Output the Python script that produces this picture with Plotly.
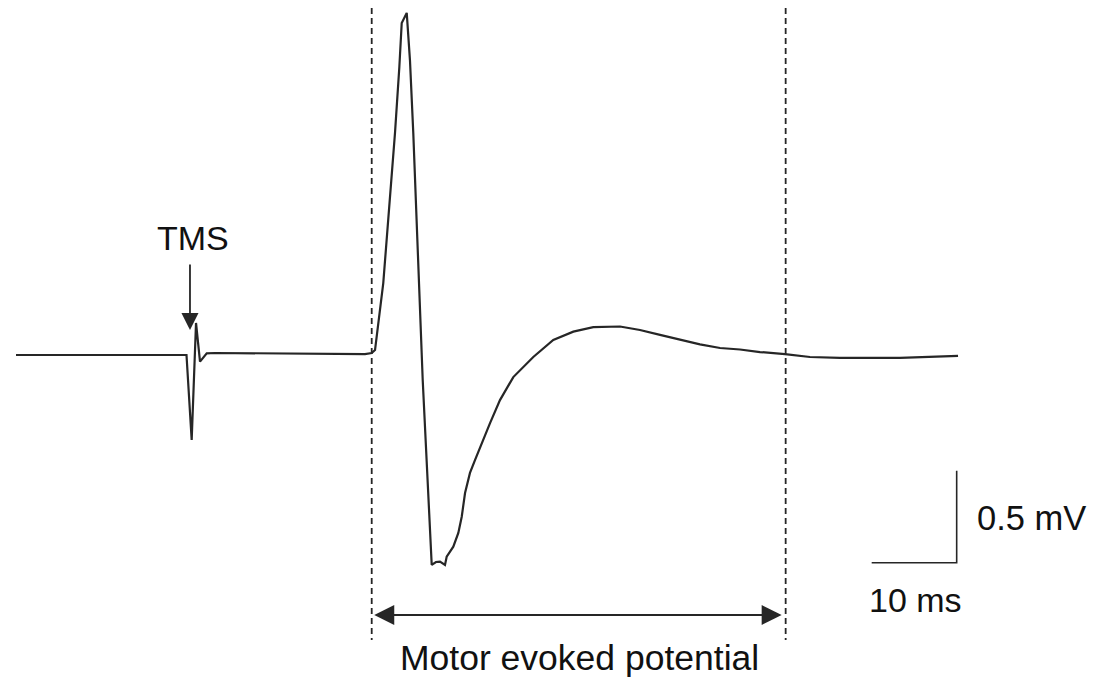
import plotly.graph_objects as go

# ---- Data (time in ms relative to TMS pulse, amplitude in mV) ----
time_ms = [-20.59, -0.53, 0.08, 0.59, 1.06, 1.85, 2.82, 12.82, 20.47, 21.26, 21.65,
           22.62, 23.41, 24.0, 24.51, 24.79, 25.38, 25.76, 26.15, 26.55, 26.94, 27.26,
           28.32, 28.82, 29.29, 29.88, 30.08, 30.86, 31.45, 31.85, 32.24, 32.82, 33.41,
           34.20, 35.18, 36.35, 37.92, 40.27, 42.62, 44.98, 47.33, 50.47, 52.82, 55.18,
           57.53, 59.88, 62.24, 64.59, 66.94, 69.88, 72.82, 76.35, 83.41, 86.35, 90.24]
amplitude_mV = [0.0, 0.0, -0.462, 0.174, -0.036, 0.009, 0.011, 0.008, 0.005, 0.011, 0.027,
                0.391, 0.842, 1.207, 1.565, 1.804, 1.859, 1.603, 1.207, 0.750, 0.299, -0.136,
                -1.141, -1.125, -1.123, -1.141, -1.096, -1.042, -0.967, -0.879, -0.750, -0.641, -0.571,
                -0.478, -0.370, -0.245, -0.120, -0.011, 0.082, 0.127, 0.151, 0.155, 0.136, 0.109,
                0.082, 0.058, 0.038, 0.030, 0.016, 0.005, -0.011, -0.016, -0.016, -0.011, -0.005]

mep_window_ms = [21.26, 69.96]      # dashed markers of MEP window
mep_arrow_ms = [21.38, 69.49]       # double arrow extent
scale_bar_ms = 10
scale_bar_mV = 0.5
scale_corner = (90.08, -1.129)      # corner of the scale bar (ms, mV)

tms_label = "TMS"
mep_label = "Motor evoked potential"
time_label = "10 ms"
volt_label = "0.5 mV"

FONT = "Arial, 'Liberation Sans', Helvetica, sans-serif"
INK = "#262626"

fig = go.Figure()

# Trace
fig.add_trace(go.Scatter(x=time_ms, y=amplitude_mV, mode="lines",
                         line=dict(color=INK, width=2.2), hoverinfo="skip"))

# Dashed window lines
for t in mep_window_ms:
    fig.add_trace(go.Scatter(x=[t, t], y=[1.886, -1.549], mode="lines",
                             line=dict(color=INK, width=1.8, dash="6px,4px"),
                             hoverinfo="skip"))

# Scale bar
cx, cy = scale_corner
fig.add_trace(go.Scatter(x=[cx - scale_bar_ms, cx, cx], y=[cy, cy, cy + scale_bar_mV],
                         mode="lines", line=dict(color=INK, width=1.6), hoverinfo="skip"))

annotations = [
    # MEP double arrow
    dict(x=mep_arrow_ms[1], y=-1.413, ax=mep_arrow_ms[0], ay=-1.413,
         xref="x", yref="y", axref="x", ayref="y", text="", showarrow=True,
         arrowhead=2, startarrowhead=2, arrowside="end+start", arrowwidth=2,
         arrowsize=2, startarrowsize=2, arrowcolor=INK),
    # TMS arrow
    dict(x=-0.12, y=0.136, ax=-0.12, ay=0.5,
         xref="x", yref="y", axref="x", ayref="y", text="", showarrow=True,
         arrowhead=2, arrowwidth=1.8, arrowsize=1.9, arrowcolor=INK),
    dict(x=0.24, y=0.636, xref="x", yref="y", text=tms_label, showarrow=False,
         font=dict(family=FONT, size=34, color="#111"), xanchor="center", yanchor="middle"),
    dict(x=45.76, y=-1.647, xref="x", yref="y", text=mep_label, showarrow=False,
         font=dict(family=FONT, size=35.5, color="#111"), xanchor="center", yanchor="middle"),
    dict(x=92.24, y=-0.886, xref="x", yref="y", text=volt_label, showarrow=False,
         font=dict(family=FONT, size=34.5, color="#111"), xanchor="left", yanchor="middle"),
    dict(x=85.18, y=-1.332, xref="x", yref="y", text=time_label, showarrow=False,
         font=dict(family=FONT, size=34, color="#111"), xanchor="center", yanchor="middle"),
]

# The page body adds an 8 px offset; ranges compensate so marks land where the reference has them.
OFF = 8
fig.update_layout(
    width=1104, height=680,
    margin=dict(l=0, r=0, t=0, b=0),
    paper_bgcolor="white", plot_bgcolor="white",
    showlegend=False,
    xaxis=dict(range=[(OFF - 191) / 8.5, (1104 + OFF - 191) / 8.5], visible=False, fixedrange=True),
    yaxis=dict(range=[(355 - 680 - OFF) / 184, (355 - OFF) / 184], visible=False, fixedrange=True),
    annotations=annotations,
)

fig.write_html("out.html")
